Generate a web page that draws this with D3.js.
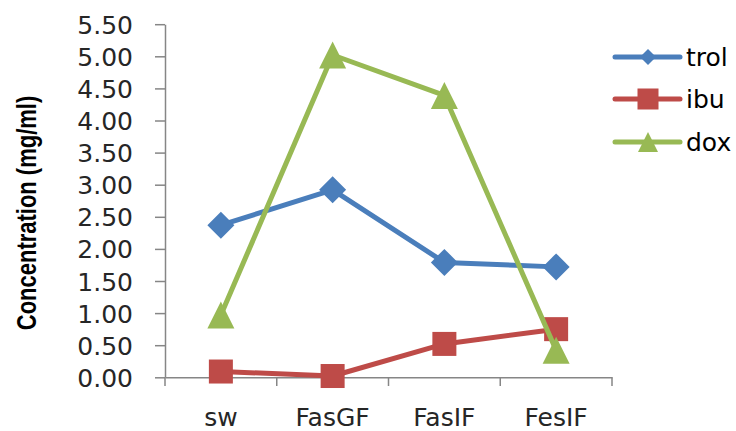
<!DOCTYPE html>
<html><head><meta charset="utf-8">
<script src="https://cdn.jsdelivr.net/npm/d3@7"></script>
<style>body{margin:0;background:#fff}svg{display:block}</style>
</head><body>
<svg id="c" width="736" height="431"></svg>
<script>
const categories = ["sw", "FasGF", "FasIF", "FesIF"];
const trol = [2.37, 2.92, 1.79, 1.72];
const ibu = [0.09, 0.02, 0.52, 0.75];
const dox = [0.97, 5.02, 4.39, 0.42];
const seriesNames = ["trol", "ibu", "dox"];
const yTicks = [0,0.5,1,1.5,2,2.5,3,3.5,4,4.5,5,5.5];
const yTitle = "Concentration (mg/ml)";

const colors = {trol:"#4A7EBB", ibu:"#BE4B48", dox:"#98B954"};
const shapes = {trol:"diamond", ibu:"square", dox:"triangle"};
const series = [{name:"trol", values:trol},{name:"ibu", values:ibu},{name:"dox", values:dox}];

const svg = d3.select("#c");
const x = d3.scaleBand().domain(categories).range([165, 612]).paddingInner(0).paddingOuter(0);
const y = d3.scaleLinear().domain([0, 5.5]).range([377.3, 24.2]);
const axisColor = "#868686";
const font = "DejaVu Sans, sans-serif";

// Y axis
const yAxis = svg.append("g").attr("transform","translate(165,0)")
  .call(d3.axisLeft(y).tickValues(yTicks).tickFormat(d3.format(".2f")).tickSize(10).tickSizeOuter(0));
yAxis.select(".domain").attr("stroke", axisColor).attr("stroke-width",1.5);
yAxis.selectAll(".tick line").attr("stroke", axisColor).attr("stroke-width",1.5);
yAxis.selectAll(".tick text").attr("x",-32).attr("dy","0.36em").attr("fill","#262626")
  .style("font-family", font).style("font-size","25px");

// X axis
const xAxis = svg.append("g").attr("transform","translate(0,377.3)")
  .call(d3.axisBottom(x).tickSize(0).tickSizeOuter(0));
xAxis.select(".domain").attr("stroke", axisColor).attr("stroke-width",1.5);
xAxis.selectAll(".tick text").attr("y",49).attr("dy",0).attr("fill","#262626")
  .style("font-family", font).style("font-size","25px");
// category boundary ticks
const bounds = categories.map(c => x(c)).concat([x.range()[1]]);
svg.append("g").selectAll("line").data(bounds).join("line")
  .attr("x1", d => d).attr("x2", d => d).attr("y1", 377.3).attr("y2", 386)
  .attr("stroke", axisColor).attr("stroke-width",1.5);

// Y title
svg.append("text").attr("transform","translate(35.5,213) scale(1.22,1) rotate(-90)")
  .attr("text-anchor","middle").style("font-family","Liberation Sans, Arial, sans-serif")
  .style("font-size","22px").style("font-weight","bold").attr("fill","#000").text(yTitle);

function marker(g, shape, size, color) {
  if (shape === "diamond") {
    const s = size/2;
    g.append("path").attr("d", `M0,${-s}L${s},0L0,${s}L${-s},0Z`).attr("fill", color);
  } else if (shape === "square") {
    g.append("rect").attr("x",-size/2).attr("y",-size/2).attr("width",size).attr("height",size).attr("fill",color);
  } else {
    const s = size/2;
    g.append("path").attr("d", `M0,${-s}L${s},${s}L${-s},${s}Z`).attr("fill", color);
  }
}

const line = d3.line().x((d,i) => x(categories[i]) + x.bandwidth()/2).y(d => y(d));
series.forEach(s => {
  const g = svg.append("g");
  g.append("path").attr("d", line(s.values)).attr("fill","none")
    .attr("stroke", colors[s.name]).attr("stroke-width",5).attr("stroke-linejoin","round");
  s.values.forEach((v,i) => {
    const mg = g.append("g").attr("transform",`translate(${x(categories[i]) + x.bandwidth()/2},${y(v)})`);
    const sz = shapes[s.name]==="diamond" ? 27 : (shapes[s.name]==="square" ? 24 : 27);
    marker(mg, shapes[s.name], sz, colors[s.name]);
  });
});

// Legend
const legY = [57, 99, 142];
seriesNames.forEach((n,i) => {
  const g = svg.append("g").attr("transform",`translate(0,${legY[i]})`);
  g.append("line").attr("x1",615).attr("x2",680).attr("y1",0).attr("y2",0)
    .attr("stroke",colors[n]).attr("stroke-width",5).attr("stroke-linecap","round");
  const mg = g.append("g").attr("transform","translate(648,0)");
  const sz = shapes[n]==="diamond" ? 16 : (shapes[n]==="square" ? 21 : 20);
  marker(mg, shapes[n], sz, colors[n]);
  g.append("text").attr("x",686).attr("y",9).style("font-family",font).style("font-size","25px")
    .attr("fill","#000").text(n);
});
</script>
</body></html>
